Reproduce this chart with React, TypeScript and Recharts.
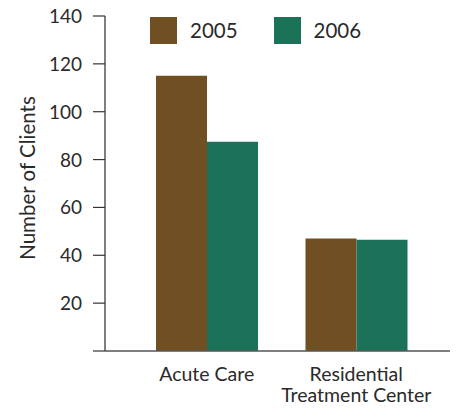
import { BarChart, Bar, XAxis, YAxis } from 'recharts'

const categories = ['Acute Care', 'Residential Treatment Center']
const clients2005 = [115, 47]
const clients2006 = [87.5, 46.5]
const yTicks = [0, 20, 40, 60, 80, 100, 120, 140]

const seriesNames = ['2005', '2006']
const seriesKeys = ['y2005', 'y2006']
const seriesColors = ['#705023', '#1b7259']

const FONT = 'Lato, "Noto Sans", sans-serif'
const TEXT = '#2a2a2a'
const AXIS = '#555555'

const data = categories.map((name, i) => ({
  name,
  y2005: clients2005[i],
  y2006: clients2006[i],
}))

// category labels may wrap onto two lines
function CategoryTick({ x, y, payload }: any) {
  const words: string[] = payload.value === 'Residential Treatment Center'
    ? ['Residential', 'Treatment Center']
    : [payload.value]
  return (
    <text x={x} y={y} textAnchor="middle" fill={TEXT} fontSize={19.5} fontFamily={FONT}>
      {words.map((w, i) => (
        <tspan key={i} x={x} dy={i === 0 ? 22 : 20.5}>{w}</tspan>
      ))}
    </text>
  )
}

function ValueTick({ x, y, payload }: any) {
  if (payload.value === 0) return null
  return (
    <text x={x} y={y} dy={7} textAnchor="end" fill={TEXT} fontSize={19} fontFamily={FONT}>
      {payload.value}
    </text>
  )
}

function AxisTitle() {
  return (
    <text
      x={27}
      y={178}
      transform="rotate(-90 27 178)"
      textAnchor="middle"
      dominantBaseline="central"
      fill={TEXT}
      fontSize={20.5}
      fontFamily={FONT}
    >
      Number of Clients
    </text>
  )
}

function SeriesLegend() {
  return (
    <div style={{ position: 'absolute', top: 17, left: 150, display: 'flex', fontFamily: FONT, fontSize: 20.5, color: TEXT, lineHeight: '27px' }}>
      {seriesNames.map((name, i) => (
        <div key={name} style={{ display: 'flex', alignItems: 'center', marginLeft: i === 0 ? 0 : 36 }}>
          <span style={{ width: 27, height: 27, background: seriesColors[i], display: 'inline-block', marginRight: 13 }} />
          <span>{name}</span>
        </div>
      ))}
    </div>
  )
}

export default function App() {
  return (
    <div style={{ position: 'absolute', left: 0, top: 0, width: 456, height: 408, background: '#fff' }}>
      <BarChart
        width={456}
        height={408}
        data={data}
        margin={{ top: 16, right: 6, bottom: 27, left: 0 }}
        barGap={0}
        barSize={51}
      >
        <XAxis
          dataKey="name"
          height={30}
          tick={<CategoryTick />}
          tickLine={false}
          axisLine={{ stroke: AXIS, strokeWidth: 1.5 }}
          padding={{ left: 27, right: 19 }}
          interval={0}
        />
        <YAxis
          width={105}
          domain={[0, 140]}
          ticks={yTicks}
          tick={<ValueTick />}
          tickSize={12}
          tickMargin={11}
          tickLine={{ stroke: '#333', strokeWidth: 1.2 }}
          axisLine={{ stroke: AXIS, strokeWidth: 1.5 }}
          label={{ content: <AxisTitle /> }}
        />
        {seriesKeys.map((key, i) => (
          <Bar key={key} dataKey={key} name={seriesNames[i]} fill={seriesColors[i]} isAnimationActive={false} />
        ))}
      </BarChart>
      <SeriesLegend />
    </div>
  )
}
